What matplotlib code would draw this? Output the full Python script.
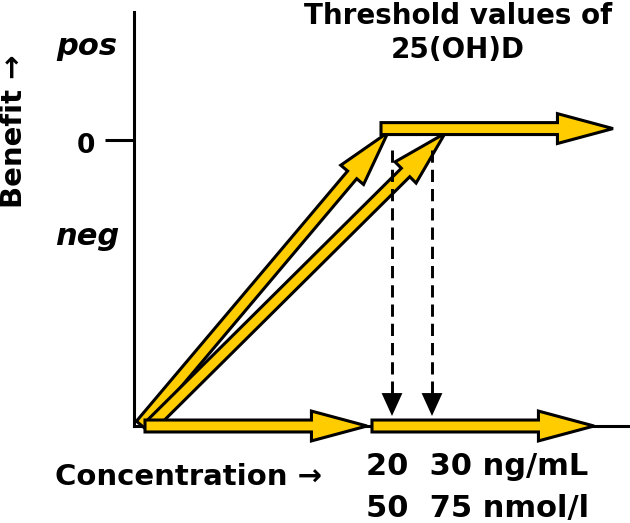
import matplotlib.pyplot as plt
from matplotlib.patches import FancyArrowPatch

# schematic units: x runs 0..124 along the concentration axis,
# y is benefit with 0 = no benefit, pos = +1, neg = -1, axis floor = -3
y_levels = [1, 0, -1]
y_labels = ['pos', '0', 'neg']
thr_ng = [20, 30]
thr_nmol = [50, 75]
thr_x = [64.5, 74.5]

# yellow arrows: (x0, y0) -> (x1, y1)
rise_arrows = [((1.75, -2.99), (63.5, 0.08)),
               ((4.0, -3.0), (77.75, 0.07))]
floor_arrows = [((2.75, -3.0), (58.25, -3.0)),
                ((59.5, -3.0), (115.0, -3.0))]
plateau_arrow = ((61.75, 0.12), (119.75, 0.12))

GOLD = '#FFCC00'

fig = plt.figure(figsize=(6.3, 5.23), dpi=100)
ax = fig.add_axes([134 / 630, (523 - 426) / 523, 496 / 630, 414 / 523])
ax.set_xlim(0, 124)
ax.set_ylim(-3, 1.343)
ax.spines['top'].set_visible(False)
ax.spines['right'].set_visible(False)
ax.spines['left'].set_linewidth(2.2)
ax.spines['bottom'].set_linewidth(2.2)
ax.set_xticks([])
ax.set_yticks([0])
ax.set_yticklabels([''])
ax.tick_params(axis='y', length=21, width=2.2)


def big_arrow(p0, p1, z):
    a = FancyArrowPatch(p0, p1, arrowstyle='simple,head_length=40,head_width=21.5,tail_width=8.6',
                        mutation_scale=1, shrinkA=0, shrinkB=0, fc=GOLD, ec='k',
                        lw=2.2, joinstyle='miter', zorder=z, clip_on=False)
    ax.add_patch(a)


for p0, p1 in rise_arrows:
    big_arrow(p0, p1, 3)
for p0, p1 in floor_arrows:
    big_arrow(p0, p1, 4)
big_arrow(*plateau_arrow, 5)

# dashed threshold arrows
for x in thr_x:
    ax.plot([x, x], [-0.105, -2.66], color='k', lw=2.1, dashes=(4.2, 2.4), zorder=6)
    head = FancyArrowPatch((x, -2.58), (x, -2.895),
                           arrowstyle='simple,head_length=16.5,head_width=15,tail_width=0.1',
                           mutation_scale=1, shrinkA=0, shrinkB=0, color='k', lw=0, zorder=6)
    ax.add_patch(head)

# text
def px(x, y):
    return x / 630, 1 - y / 523


for lev, lab in zip(y_levels, y_labels):
    if lab == '0':
        fig.text(*px(86, 153), lab, ha='center', va='baseline', fontsize=19, fontweight='bold')
    else:
        yb = 55 if lev > 0 else 245
        fig.text(*px(87, yb), lab, ha='center', va='baseline', fontsize=22,
                 fontweight='bold', style='italic')

fig.text(*px(14, 131), 'Benefit \u2192', rotation=90, ha='center', va='center',
         fontsize=21, fontweight='bold')
fig.text(*px(55, 485), 'Concentration \u2192', ha='left', va='baseline',
         fontsize=21, fontweight='bold')
fig.text(*px(458, 24), 'Threshold values of', ha='center', va='baseline',
         fontsize=20, fontweight='bold')
fig.text(*px(458, 58), '25(OH)D', ha='center', va='baseline',
         fontsize=20, fontweight='bold')
fig.text(*px(366, 475), f'{thr_ng[0]}  {thr_ng[1]} ng/mL', ha='left', va='baseline',
         fontsize=22, fontweight='bold')
fig.text(*px(366, 517), f'{thr_nmol[0]}  {thr_nmol[1]} nmol/l', ha='left', va='baseline',
         fontsize=22, fontweight='bold')

fig.savefig('out.png', dpi=100)
